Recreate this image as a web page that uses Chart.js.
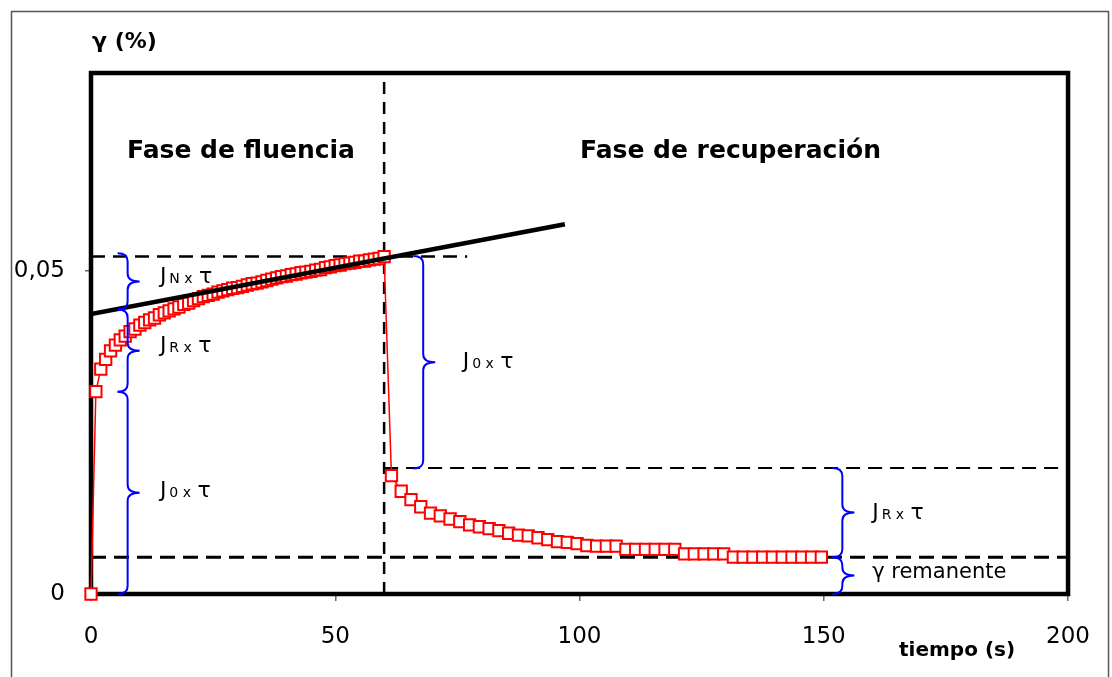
<!DOCTYPE html>
<html>
<head>
<meta charset="utf-8">
<script src="https://cdn.jsdelivr.net/npm/chart.js@4.4.0/dist/chart.umd.min.js"></script>
<style>
  html, body { margin: 0; padding: 0; background: #fff; }
  #wrap { width: 1112px; height: 677px; position: relative; }
</style>
</head>
<body>
<div id="wrap"><canvas id="creepChart"></canvas></div>
<script>
// Creep / recovery test: strain (%) vs time (s)

// creep phase, one reading per second
const creepTime = [0,1,2,3,4,5,6,7,8,9,10,11,12,13,14,15,16,17,18,19,20,21,22,23,24,25,26,27,28,29,30,
  31,32,33,34,35,36,37,38,39,40,41,42,43,44,45,46,47,48,49,50,51,52,53,54,55,56,57,58,59,60];
const creepStrain = [0,0.0313,0.0348,0.0363,0.0376,0.0385,0.0393,0.0399,0.0406,0.0410,0.0416,
  0.0420,0.0424,0.0427,0.0432,0.0435,0.0438,0.0441,0.0444,0.0448,0.0450,
  0.0454,0.0457,0.0460,0.0462,0.0464,0.0467,0.0469,0.0471,0.0473,0.0474,
  0.0476,0.0478,0.0480,0.0481,0.0483,0.0485,0.0487,0.0489,0.0491,0.0492,
  0.0494,0.0495,0.0497,0.0498,0.0499,0.0501,0.0502,0.0505,0.0506,0.0508,
  0.0509,0.0511,0.0512,0.0513,0.0515,0.0515,0.0517,0.0518,0.0519,0.0522];

// recovery phase, one reading every two seconds
const recoveryTime = [61.5,63.5,65.5,67.5,69.5,71.5,73.5,75.5,77.5,79.5,81.5,83.5,85.5,87.5,89.5,
  91.5,93.5,95.5,97.5,99.5,101.5,103.5,105.5,107.5,109.5,111.5,113.5,115.5,117.5,119.5,
  121.5,123.5,125.5,127.5,129.5,131.5,133.5,135.5,137.5,139.5,141.5,143.5,145.5,147.5,149.5];
const recoveryStrain = [0.0183,0.0159,0.0146,0.0135,0.0125,0.0121,0.0116,0.0112,0.0107,0.0104,
  0.0101,0.0098,0.0094,0.0091,0.0090,0.0087,0.0084,0.0081,0.0080,0.0078,
  0.0075,0.0074,0.0074,0.0074,0.0069,0.0069,0.0069,0.0069,0.0069,0.0069,
  0.0062,0.0062,0.0062,0.0062,0.0062,0.0057,0.0057,0.0057,0.0057,0.0057,
  0.0057,0.0057,0.0057,0.0057,0.0057];

// tangent to the end of the creep curve
const fitTime = [0, 97];
const fitStrain = [0.0433, 0.0572];

// reference levels
const peakStrain = 0.0522;      // end of creep
const elasticEnd = 0.0195;      // after instant recovery
const residualStrain = 0.0057;  // γ remanente
const switchTime = 60;

const xTicks = [0, 50, 100, 150, 200];
const yTicks = [0, 0.05];
const yMax = 0.0806;

// braces: [time, from, to]
const braces = [
  [7.5, 0.0527, 0.0440],
  [7.5, 0.0440, 0.0313],
  [7.5, 0.0313, 0],
  [68, 0.0523, 0.0194],
  [153.8, 0.0195, 0.0057],
  [153.8, 0.0057, 0]
];
// labels: [time, strain, big, small]
const jLabels = [
  [14.1, 0.0481, 'J', 'N'],
  [14.1, 0.0375, 'J', 'R'],
  [14.1, 0.0150, 'J', '0'],
  [76.1, 0.0350, 'J', '0'],
  [159.9, 0.0116, 'J', 'R']
];

const FONT = "'DejaVu Sans', sans-serif";
const pts = (xs, ys) => xs.map((x, i) => ({ x, y: ys[i] }));

const extras = {
  id: 'extras',
  beforeDraw(chart) {
    const ctx = chart.ctx;
    ctx.save();
    ctx.fillStyle = '#fff';
    ctx.fillRect(0, 0, chart.width, chart.height);
    ctx.strokeStyle = '#555';
    ctx.lineWidth = 1.5;
    ctx.strokeRect(11.5, 11.5, 1097, 720);
    ctx.restore();
  },
  beforeDatasetsDraw(chart) {
    const { ctx, chartArea: a } = chart;
    ctx.save();
    ctx.strokeStyle = '#000';
    ctx.lineWidth = 4.5;
    ctx.strokeRect(a.left, a.top, a.right - a.left, a.bottom - a.top);
    ctx.restore();
  },
  afterDatasetsDraw(chart) {
    const { ctx, chartArea: a, scales: { x, y } } = chart;
    ctx.save();
    // braces
    ctx.strokeStyle = '#0000ff';
    ctx.lineWidth = 2;
    braces.forEach(([t, v1, v2]) => {
      const bx = x.getPixelForValue(t);
      const y1 = y.getPixelForValue(v1), y2 = y.getPixelForValue(v2);
      const ym = (y1 + y2) / 2, r = Math.min(8, (y2 - y1) / 4);
      ctx.beginPath();
      ctx.moveTo(bx - 10, y1);
      ctx.quadraticCurveTo(bx, y1, bx, y1 + r);
      ctx.lineTo(bx, ym - r);
      ctx.quadraticCurveTo(bx, ym, bx + 12, ym);
      ctx.quadraticCurveTo(bx, ym, bx, ym + r);
      ctx.lineTo(bx, y2 - r);
      ctx.quadraticCurveTo(bx, y2, bx - 10, y2);
      ctx.stroke();
    });
    // J labels
    ctx.fillStyle = '#000';
    ctx.textBaseline = 'alphabetic';
    ctx.textAlign = 'left';
    jLabels.forEach(([t, v, big, small]) => {
      let px = x.getPixelForValue(t);
      const py = y.getPixelForValue(v);
      ctx.font = `22px ${FONT}`;
      ctx.fillText(big, px, py);
      px += ctx.measureText(big).width + 3;
      ctx.font = `14px ${FONT}`;
      ctx.fillText(small + ' x ', px, py);
      px += ctx.measureText(small + ' x ').width + 2;
      ctx.font = `22px ${FONT}`;
      ctx.fillText('τ', px, py);
    });
    ctx.font = `21px ${FONT}`;
    ctx.fillText('γ remanente', x.getPixelForValue(159.9), y.getPixelForValue(0.0025));

    // phase titles
    ctx.font = `bold 25px ${FONT}`;
    ctx.textAlign = 'center';
    ctx.textBaseline = 'middle';
    ctx.fillText('Fase de fluencia', x.getPixelForValue(30.7), y.getPixelForValue(0.0684));
    ctx.fillText('Fase de recuperación', x.getPixelForValue(130.9), y.getPixelForValue(0.0684));

    // axis titles
    ctx.textAlign = 'left';
    ctx.font = `bold 22px ${FONT}`;
    ctx.fillText('γ (%)', a.left + 1, a.top - 31);
    ctx.font = `bold 20px ${FONT}`;
    ctx.fillText('tiempo (s)', a.right - 169, a.bottom + 57);
    ctx.restore();
  }
};

const dashed = (data, width, dash) => ({
  data, borderColor: '#000', borderWidth: width, borderDash: dash,
  pointRadius: 0, showLine: true, fill: false, clip: false
});

new Chart(document.getElementById('creepChart'), {
  type: 'scatter',
  data: {
    datasets: [
      {
        data: pts(fitTime, fitStrain),
        borderColor: '#000', borderWidth: 4.5, pointRadius: 0, showLine: true
      },
      {
        data: pts(creepTime, creepStrain).concat(pts(recoveryTime, recoveryStrain)),
        showLine: true,
        borderColor: '#ff0000', borderWidth: 1.5,
        pointStyle: 'rect', pointRadius: 8,
        pointBackgroundColor: '#fff', pointBorderColor: '#ff0000', pointBorderWidth: 2,
        clip: false
      },
      dashed([{ x: 0, y: peakStrain }, { x: 77, y: peakStrain }], 2.5, [14, 8]),
      dashed([{ x: switchTime, y: 0 }, { x: switchTime, y: yMax }], 2.5, [12, 8]),
      dashed([{ x: switchTime, y: elasticEnd }, { x: 200, y: elasticEnd }], 2, [14, 8]),
      dashed([{ x: 0, y: residualStrain }, { x: 200, y: residualStrain }], 3, [15, 8])
    ]
  },
  options: {
    responsive: true,
    maintainAspectRatio: false,
    animation: false,
    devicePixelRatio: 1,
    layout: { padding: { left: 0, top: 73, right: 43, bottom: 0 } },
    plugins: { legend: { display: false }, tooltip: { enabled: false } },
    scales: {
      x: {
        type: 'linear', min: 0, max: 200,
        afterFit: s => { s.height = 83; },
        afterBuildTicks: s => { s.ticks = xTicks.map(v => ({ value: v })); },
        grid: { drawOnChartArea: false, drawTicks: true, tickLength: 7, color: '#666', lineWidth: 1.5 },
        border: { display: false },
        ticks: { color: '#000', padding: 22, font: { family: FONT, size: 23 } }
      },
      y: {
        type: 'linear', min: 0, max: yMax,
        afterFit: s => { s.width = 91; },
        afterBuildTicks: s => { s.ticks = yTicks.map(v => ({ value: v })); },
        grid: { drawOnChartArea: false, drawTicks: true, tickLength: 6, color: '#666', lineWidth: 1.5 },
        border: { display: false },
        ticks: {
          color: '#000', padding: 20, font: { family: FONT, size: 23 },
          callback: v => String(v).replace('.', ',')
        }
      }
    }
  },
  plugins: [extras]
});
</script>
</body>
</html>
